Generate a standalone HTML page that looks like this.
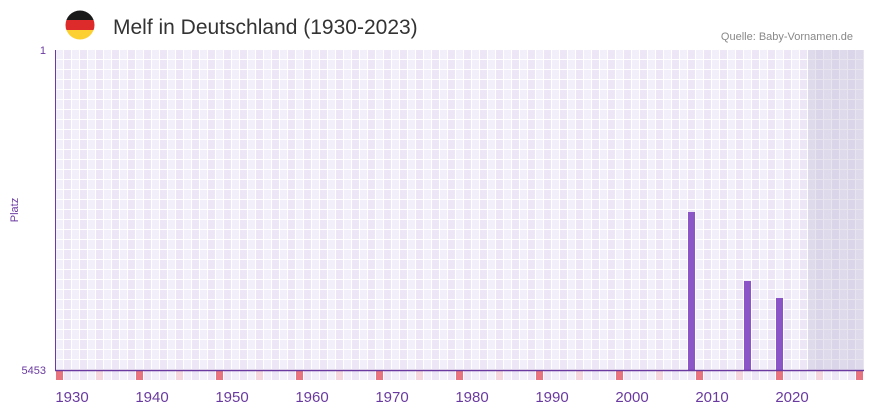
<!DOCTYPE html>
<html><head><meta charset="utf-8"><style>
body{margin:0;background:#fff;width:873px;height:412px;overflow:hidden;font-family:"Liberation Sans",sans-serif}
</style></head><body>
<svg width="873" height="412" xmlns="http://www.w3.org/2000/svg">
<defs>
<pattern id="g" x="56" y="50" width="16" height="10" patternUnits="userSpaceOnUse">
<rect width="16" height="10" fill="#fff"/>
<rect x="0" y="0" width="7" height="9" fill="#f2eefa"/>
<rect x="8" y="0" width="7" height="9" fill="#ece6f7"/>
</pattern>
<pattern id="b" x="56" y="371" width="16" height="9" patternUnits="userSpaceOnUse">
<rect width="16" height="9" fill="#fff"/>
<rect x="0" width="7" height="9" fill="#f2eefa"/>
<rect x="8" width="7" height="9" fill="#ece6f7"/>
</pattern>
</defs>
<rect x="56" y="50" width="808" height="320" fill="url(#g)"/>
<rect x="56" y="371" width="808" height="9" fill="url(#b)"/>
<rect x="808" y="50" width="56" height="320" fill="rgba(190,180,205,0.35)"/>
<g fill="#e87480">
<rect x="56" y="371" width="7" height="9"/><rect x="136" y="371" width="7" height="9"/><rect x="216" y="371" width="7" height="9"/><rect x="296" y="371" width="7" height="9"/><rect x="376" y="371" width="7" height="9"/><rect x="456" y="371" width="7" height="9"/><rect x="536" y="371" width="7" height="9"/><rect x="616" y="371" width="7" height="9"/><rect x="696" y="371" width="7" height="9"/><rect x="776" y="371" width="7" height="9"/><rect x="856" y="371" width="7" height="9"/>
</g>
<g fill="#f5d5de">
<rect x="96" y="371" width="7" height="9"/><rect x="176" y="371" width="7" height="9"/><rect x="256" y="371" width="7" height="9"/><rect x="336" y="371" width="7" height="9"/><rect x="416" y="371" width="7" height="9"/><rect x="496" y="371" width="7" height="9"/><rect x="576" y="371" width="7" height="9"/><rect x="656" y="371" width="7" height="9"/><rect x="736" y="371" width="7" height="9"/><rect x="816" y="371" width="7" height="9"/>
</g>
<g fill="#8b55c8">
<rect x="688" y="212" width="7" height="158"/>
<rect x="744" y="281" width="7" height="89"/>
<rect x="776" y="298" width="7" height="72"/>
</g>
<line x1="55.5" y1="50" x2="55.5" y2="371" stroke="#6a3aa0" stroke-width="1"/>
<line x1="55" y1="370.5" x2="864" y2="370.5" stroke="#6a3aa0" stroke-width="1.5"/>
<g font-size="11" fill="#6a3aa0" text-anchor="end">
<text x="46" y="54">1</text>
<text x="46" y="374">5453</text>
</g>
<text x="18" y="210" font-size="11" fill="#6a3aa0" text-anchor="middle" transform="rotate(-90 18 210)">Platz</text>
<g font-size="15" fill="#6a3aa0" text-anchor="middle">
<text x="72" y="402">1930</text><text x="152" y="402">1940</text><text x="232" y="402">1950</text><text x="312" y="402">1960</text><text x="392" y="402">1970</text><text x="472" y="402">1980</text><text x="552" y="402">1990</text><text x="632" y="402">2000</text><text x="712" y="402">2010</text><text x="792" y="402">2020</text>
</g>
<clipPath id="c"><circle cx="80" cy="25" r="14.5"/></clipPath>
<g clip-path="url(#c)">
<rect x="65" y="10" width="30" height="10" fill="#1a1a1a"/>
<rect x="65" y="20" width="30" height="10" fill="#dd2a2a"/>
<rect x="65" y="30" width="30" height="10" fill="#fbd030"/>
</g>
<text x="113" y="34" font-size="21" fill="#333">Melf in Deutschland (1930-2023)</text>
<text x="853" y="40" font-size="11" fill="#888" text-anchor="end">Quelle: Baby-Vornamen.de</text>
</svg>
</body></html>
